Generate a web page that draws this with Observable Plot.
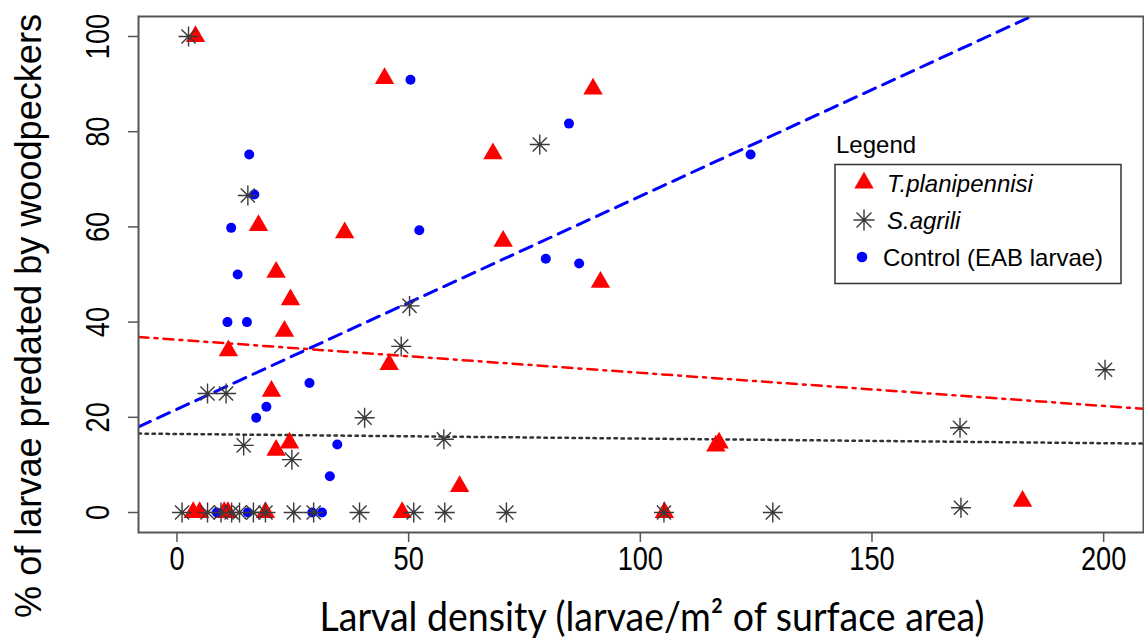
<!DOCTYPE html>
<html><head><meta charset="utf-8">
<script src="https://cdn.jsdelivr.net/npm/d3@7"></script>
<script src="https://cdn.jsdelivr.net/npm/@observablehq/plot@0.6"></script>
<style>
body{margin:0;background:#fff;}
#wrap{position:relative;width:1144px;height:644px;}
</style></head><body><div id="wrap"></div>
<script>
// ---- data ----
const seriesNames = ["T.planipennisi", "S.agrili", "Control (EAB larvae)"];

const tpX = [4, 44.8, 17.6, 36.2, 21.4, 24.5, 23.2, 11.1, 45.8, 20.4, 24.3, 21.4, 89.8, 68.2, 70.4, 91.4, 61.0, 116.3, 117.0, 182.5, 3.5, 4.9, 10.2, 11.0, 19.1, 48.6, 105.2];
const tpY = [100, 91.2, 60.3, 58.8, 50.5, 44.7, 38.1, 34.0, 31.1, 25.5, 14.6, 13.1, 89.0, 75.4, 57.0, 48.4, 5.5, 14.0, 14.6, 2.4, 0, 0, 0, 0, 0, 0, 0];

const saX = [2.5, 15.3, 50.2, 48.4, 6.6, 10.6, 40.5, 14.4, 24.8, 57.6, 78.3, 200.3, 169.0, 169.2, 1.1, 6.6, 9.5, 11.8, 13.5, 16.5, 19.1, 25.2, 29.5, 39.4, 51.1, 57.8, 71.1, 105.1, 128.6];
const saY = [100, 66.6, 43.4, 34.9, 25, 25, 19.9, 14.1, 11.1, 15.4, 77.3, 30, 17.8, 1.0, 0, 0, 0, 0, 0, 0, 0, 0, 0, 0, 0, 0, 0, 0, 0];

const ctX = [50.4, 15.6, 16.7, 11.7, 52.3, 13.1, 10.9, 15.1, 28.6, 19.3, 17.1, 34.6, 33.0, 84.6, 123.8, 79.6, 86.8, 8.6, 15.3, 29.2, 31.3];
const ctY = [90.9, 75.2, 66.8, 59.8, 59.3, 50.0, 40, 40, 27.2, 22.2, 19.9, 14.3, 7.6, 81.7, 75.2, 53.3, 52.3, 0, 0, 0, 0];

// fitted regression lines (intercept, slope) per series
const fitIntercept = [36.3, 16.5, 21.7];
const fitSlope = [-0.0696, -0.0097, 0.4475];

const xTicks = [0, 50, 100, 150, 200];
const yTicks = [0, 20, 40, 60, 80, 100];
const xDomain = [-8.3, 208.6];
const yDomain = [-4.2, 104.2];

const xTitle = "Larval density (larvae/m\u00B2 of surface area)";
const yTitle = "% of larvae predated by woodpeckers";

// ---- build tables ----
const zip = (xs, ys) => xs.map((x, i) => ({x, y: ys[i]}));
const tp = zip(tpX, tpY), sa = zip(saX, saY), ct = zip(ctX, ctY);

function fitLine(k) {
  const a = fitIntercept[k], b = fitSlope[k];
  let x0 = xDomain[0], x1 = xDomain[1];
  if (b !== 0) {
    const xa = (yDomain[0] - a) / b, xb = (yDomain[1] - a) / b;
    const lo = Math.min(xa, xb), hi = Math.max(xa, xb);
    x0 = Math.max(x0, lo); x1 = Math.min(x1, hi);
  }
  return [{x: x0, y: a + b * x0}, {x: x1, y: a + b * x1}];
}

const asterisk8 = {
  draw(context, size) {
    const r = Math.sqrt(size / Math.PI);
    const d = r * Math.SQRT1_2;
    context.moveTo(-r, 0); context.lineTo(r, 0);
    context.moveTo(0, -r); context.lineTo(0, r);
    context.moveTo(-d, -d); context.lineTo(d, d);
    context.moveTo(-d, d); context.lineTo(d, -d);
  }
};

const FONT = "'Liberation Sans', Arial, sans-serif";

const chart = Plot.plot({
  width: 1144,
  height: 644,
  marginLeft: 138,
  marginRight: 1,
  marginTop: 16,
  marginBottom: 112,
  style: {fontFamily: FONT, fontSize: "34px", color: "#000", background: "#fff"},
  x: {domain: xDomain},
  y: {domain: yDomain},
  marks: [
    Plot.line(fitLine(0), {x: "x", y: "y", stroke: "#ff0000", strokeWidth: 2.5, strokeDasharray: "10,6,3,6", clip: true}),
    Plot.line(fitLine(1), {x: "x", y: "y", stroke: "#333", strokeWidth: 2.5, strokeDasharray: "2.5,4.5", clip: true}),
    Plot.line(fitLine(2), {x: "x", y: "y", stroke: "#0000ff", strokeWidth: 3, strokeDasharray: "13,8", clip: true}),
    Plot.dot(tp, {x: "x", y: "y", symbol: "triangle", r: 7.2, fill: "#ff0000", stroke: "none"}),
    Plot.dot(ct, {x: "x", y: "y", symbol: "circle", r: 5, fill: "#0000ff", stroke: "none"}),
    Plot.dot(sa, {x: "x", y: "y", symbol: asterisk8, r: 10, fill: "none", stroke: "#3a3a3a", strokeWidth: 1.4}),
    Plot.frame({stroke: "#555", strokeWidth: 2}),
    Plot.axisX({ticks: xTicks, tickSize: 10, tickPadding: 3, label: null, stroke: "#555", strokeWidth: 1.5}),
    Plot.axisY({ticks: yTicks, tickSize: 10, tickPadding: 20, tickRotate: -90, label: null, stroke: "#555", strokeWidth: 1.5})
  ]
});

document.getElementById("wrap").appendChild(chart);

const svg = d3.select(chart);
// narrow the tick label glyphs along their reading direction
svg.selectAll('g[aria-label="x-axis tick label"] text, g[aria-label="y-axis tick label"] text').each(function() {
  const t = this.getAttribute("transform") || "";
  this.setAttribute("transform", t + " scale(0.8,1)");
});

// axis titles
svg.append("text")
  .attr("transform", "translate(652,631)")
  .attr("text-anchor", "middle")
  .attr("font-family", "Lato, 'Open Sans', sans-serif")
  .attr("font-size", 40)
  .attr("textLength", 665)
  .attr("lengthAdjust", "spacingAndGlyphs")
  .attr("fill", "#000")
  .text(xTitle);

svg.append("text")
  .attr("transform", "translate(41,316) rotate(-90)")
  .attr("text-anchor", "middle")
  .attr("font-family", FONT)
  .attr("font-size", 37)
  .attr("textLength", 604)
  .attr("lengthAdjust", "spacingAndGlyphs")
  .attr("fill", "#000")
  .text(yTitle);

// ---- legend (overlay) ----
const leg = d3.select("#wrap").append("svg")
  .attr("width", 1144).attr("height", 644)
  .style("position", "absolute").style("left", "0px").style("top", "0px")
  .style("pointer-events", "none")
  .attr("font-family", FONT);

leg.append("text").attr("x", 836).attr("y", 153).attr("font-size", 24).text("Legend");
leg.append("rect").attr("x", 835).attr("y", 164.5).attr("width", 286).attr("height", 119)
  .attr("fill", "#fff").attr("stroke", "#333").attr("stroke-width", 1.5);

const legSyms = [
  {sym: d3.symbol(d3.symbolTriangle, Math.PI * 7.2 * 7.2)(), fill: "#ff0000", stroke: "none", sw: 0, italic: true},
  {sym: d3.symbol(asterisk8, Math.PI * 10.5 * 10.5)(), fill: "none", stroke: "#3a3a3a", sw: 1.4, italic: true},
  {sym: d3.symbol(d3.symbolCircle, Math.PI * 5.3 * 5.3)(), fill: "#0000ff", stroke: "none", sw: 0, italic: false}
];
const rowY = [183, 220, 257];
const symX = [864, 864, 862];
const txtX = [887, 887, 883];
seriesNames.forEach((name, i) => {
  const s = legSyms[i];
  leg.append("path").attr("d", s.sym)
    .attr("transform", `translate(${symX[i]},${rowY[i]})`)
    .attr("fill", s.fill).attr("stroke", s.stroke).attr("stroke-width", s.sw);
  leg.append("text").attr("x", txtX[i]).attr("y", rowY[i] + 8.5)
    .attr("font-size", 24)
    .attr("font-style", s.italic ? "italic" : "normal")
    .text(name);
});
</script>
</body></html>
